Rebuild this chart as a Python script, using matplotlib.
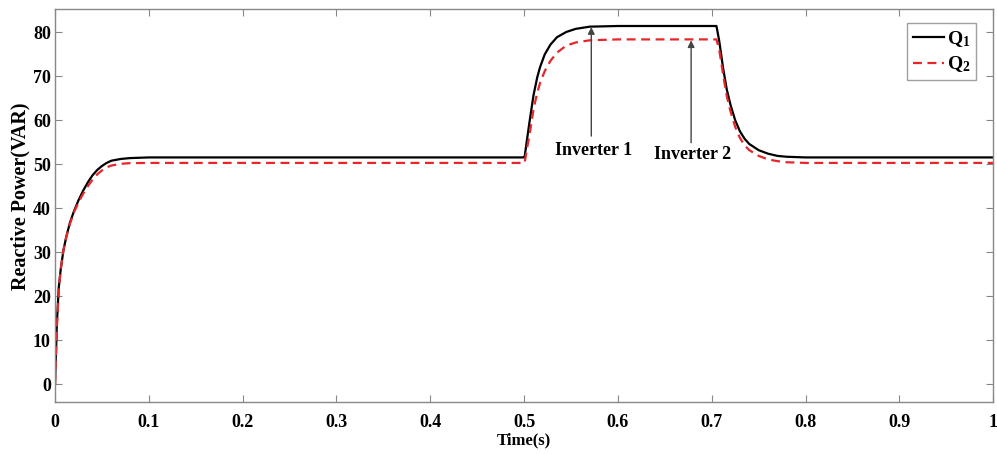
import matplotlib
matplotlib.use('agg')
import matplotlib.pyplot as plt
import numpy as np

plt.rcParams['font.family'] = ['Liberation Serif', 'DejaVu Serif']
plt.rcParams['font.weight'] = 'bold'
plt.rcParams['mathtext.fontset'] = 'custom'
plt.rcParams['mathtext.rm'] = 'Liberation Serif:bold'
plt.rcParams['mathtext.it'] = 'Liberation Serif:bold'

# reactive power of the two inverters, read at these instants (s)
t_q = [0, 0.002, 0.004, 0.006, 0.009, 0.012, 0.016, 0.02, 0.025, 0.03, 0.035,
       0.04, 0.045, 0.05, 0.055, 0.06, 0.07, 0.08, 0.1,
       0.5, 0.5005, 0.503, 0.506, 0.51, 0.514, 0.517, 0.522, 0.528, 0.535,
       0.545, 0.555, 0.57, 0.6,
       0.705, 0.708, 0.712, 0.716, 0.72, 0.725, 0.73, 0.735, 0.74, 0.75,
       0.76, 0.77, 0.78, 0.8, 1.0]

q1 = [0, 14, 22, 26, 30.5, 33.5, 36.8, 39.2, 41.8, 44.0, 45.9,
      47.5, 48.7, 49.6, 50.3, 50.8, 51.2, 51.4, 51.55,
      51.55, 51.6, 55.5, 60.0, 65.7, 69.8, 72.1, 75.0, 77.2, 78.9,
      80.1, 80.8, 81.3, 81.45,
      81.45, 78.0, 72.0, 67.0, 63.5, 60.0, 57.5, 55.8, 54.6, 53.2,
      52.4, 51.9, 51.7, 51.55, 51.55]

q2 = [0, 13, 21.5, 26, 30.5, 33.5, 36.5, 39.0, 41.3, 43.3, 45.0,
      46.5, 47.7, 48.6, 49.3, 49.7, 50.1, 50.25, 50.3,
      50.3, 50.3, 53.5, 57.0, 62.5, 66.3, 68.5, 71.2, 73.5, 75.4,
      77.0, 77.7, 78.2, 78.4,
      78.4, 76.0, 70.5, 65.5, 62.0, 58.5, 56.0, 54.3, 53.2, 51.9,
      51.1, 50.7, 50.45, 50.3, 50.3]

fig = plt.figure(figsize=(9.97, 4.54), dpi=100)
ax = fig.add_axes([0.0552, 0.1135, 0.9410, 0.8665])

ax.plot(t_q, q1, '-', color='black', linewidth=1.6, label='Q$_1$')
ax.plot(t_q, q2, '--', color='#e8262a', linewidth=1.6, dashes=(4, 2.5), label='Q$_2$')

# arrows marking the two inverters' peaks
arr = dict(arrowstyle='-|>', color='#444444', lw=1.0, mutation_scale=10,
           shrinkA=0, shrinkB=0)
ax.annotate('', xy=(0.5716, 81.2), xytext=(0.5716, 56.4), arrowprops=arr)
ax.annotate('', xy=(0.678, 78.2), xytext=(0.678, 54.9), arrowprops=arr)
ax.text(0.5735, 53.2, 'Inverter 1', ha='center', va='center', fontsize=13, fontweight='bold')
ax.text(0.680, 52.2, 'Inverter 2', ha='center', va='center', fontsize=13, fontweight='bold')

ax.set_xlim(0, 1)
ax.set_ylim(-4.2, 85.3)
ax.set_xticks(np.arange(0, 1.01, 0.1))
ax.set_xticklabels(['0', '0.1', '0.2', '0.3', '0.4', '0.5', '0.6', '0.7', '0.8', '0.9', '1'])
ax.set_yticks(np.arange(0, 81, 10))
ax.tick_params(direction='in', top=True, right=True, length=5, width=0.8,
               color='#888888', labelsize=13)
ax.tick_params(axis='x', pad=8)
ax.tick_params(axis='y', pad=3)
for s in ax.spines.values():
    s.set_color('#888888')
    s.set_linewidth(1.0)

ax.set_xlabel('Time(s)', fontsize=12, fontweight='bold', labelpad=1)
ax.set_ylabel('Reactive Power(VAR)', fontsize=14.5, fontweight='bold')
ax.yaxis.set_label_coords(-0.0266, 0.525)

leg = ax.legend(loc='upper right', bbox_to_anchor=(0.982, 0.965), borderaxespad=0,
                fontsize=14, frameon=True, fancybox=False, edgecolor='#888888',
                handlelength=1.6, handletextpad=0.15, borderpad=0.3, labelspacing=0.3)
leg.get_frame().set_linewidth(1.0)

fig.savefig('out.png', dpi=100)
